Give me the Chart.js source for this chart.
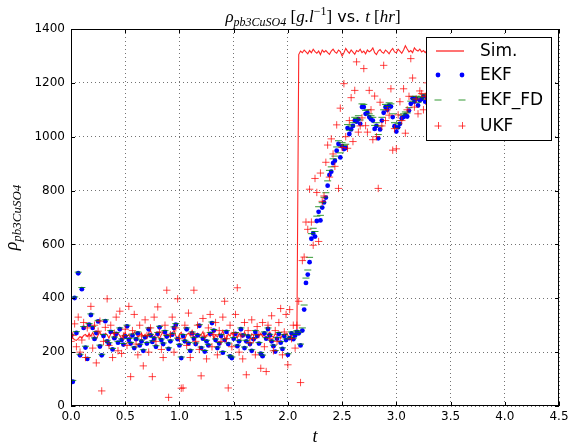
<!DOCTYPE html>
<html><head><meta charset="utf-8">
<script src="https://cdn.jsdelivr.net/npm/chart.js@4.4.0/dist/chart.umd.min.js"></script>
<style>html,body{margin:0;padding:0;background:#fff;}canvas{display:block;}</style>
</head><body>
<canvas id="c" width="577" height="446"></canvas>
<script>
// ---- data ----
const N = 200;
const dt = 1 / 60; // sampling step in hours
const times = Array.from({length: N}, (_, i) => i * dt);

const seriesNames = ['Sim.', 'EKF', 'EKF_FD', 'UKF'];

const simValues = [
 260,252,246,244,250,258,252,262,266,258,
 268,260,272,258,250,263,275,262,255,270,
 265,252,268,278,260,255,270,262,248,265,
 272,258,266,250,262,275,268,255,263,270,
 258,266,252,272,280,262,255,268,260,250,
 265,275,258,268,262,255,270,282,260,252,
 266,274,258,248,265,270,260,278,255,262,
 270,258,264,276,252,262,268,258,272,250,
 264,256,270,262,280,255,248,268,260,272,
 258,266,252,270,262,255,275,260,265,250,
 268,262,274,255,260,270,258,264,252,268,
 275,260,255,268,262,272,250,265,258,270,
 262,255,268,260,272,278,
 1305,1318,1312,1322,1315,1308,1320,1312,1325,1316,
 1310,1318,1305,1322,1314,1320,1312,1306,1318,1325,
 1315,1310,1322,1316,1300,1312,1328,1318,1310,1322,
 1314,1306,1320,1316,1325,1312,1318,1308,1322,1315,
 1320,1330,1312,1305,1318,1324,1314,1310,1322,1316,
 1308,1320,1328,1315,1312,1325,1318,1310,1322,1338,
 1326,1315,1320,1312,1330,1322,1318,1325,1315,1320,
 1312,1322,1316,1320
];

const ekfValues = [
 262,90,401,271,493,188,434,290,217,175,
 302,338,290,249,271,314,221,188,260,315,
 240,230,275,210,252,268,235,285,245,228,
 258,296,246,232,262,215,248,270,225,240,
 205,255,232,285,262,238,250,220,268,292,
 245,230,275,258,212,240,265,290,302,248,
 225,178,260,240,285,232,205,270,250,230,
 262,298,215,250,202,240,225,268,308,280,
 245,215,232,260,198,245,275,230,184,178,
 250,268,222,240,285,262,215,240,258,230,
 205,248,275,260,232,194,185,270,250,286,
 262,240,222,202,250,268,235,212,260,245,
 190,252,270,248,262,275,
 270,225,280,358,457,488,534,621,641,629,
 687,721,689,737,756,774,818,858,870,902,
 911,948,973,923,965,954,958,1032,1010,1027,
 1040,1060,1056,1065,1048,1110,1110,1085,1089,1073,
 1065,1060,1029,1040,994,1027,1060,1089,1110,1100,
 1115,1112,1073,1039,1019,1035,1048,1069,1073,1080,
 1075,1097,1122,1143,1130,1141,1116,1135,1140,1150,
 1130,1145,1150,1140
];

const ekfFdValues = [
 265,95,405,276,497,192,440,295,222,180,
 306,342,296,253,276,318,226,192,265,320,
 244,235,280,214,256,273,240,290,249,232,
 262,300,251,236,267,219,252,275,229,245,
 209,260,236,290,266,242,255,224,273,296,
 249,234,280,262,216,245,270,294,306,252,
 229,182,265,244,290,236,209,275,254,234,
 266,302,219,255,206,244,229,273,312,284,
 249,219,236,265,202,249,280,234,188,182,
 254,273,226,244,290,266,219,244,263,234,
 209,252,280,264,236,198,189,275,254,290,
 266,244,226,206,254,273,239,216,265,249,
 194,256,275,252,266,280,
 274,230,290,375,475,505,552,640,660,648,
 705,740,708,755,775,792,836,875,888,918,
 928,962,985,940,978,968,972,1045,1024,1040,
 1052,1072,1068,1078,1062,1122,1120,1098,1100,1085,
 1078,1072,1042,1052,1008,1040,1072,1100,1120,1112,
 1126,1122,1085,1052,1032,1048,1060,1080,1085,1092,
 1088,1108,1132,1150,1140,1150,1128,1145,1150,1158,
 1140,1155,1160,1150
];

const ukfValues = [
 240,262,305,220,330,200,245,310,180,290,
 260,370,215,300,160,278,315,56,240,292,
 398,225,300,180,270,330,205,352,195,260,
 285,225,370,109,280,340,230,190,300,260,
 149,320,262,200,290,109,330,240,368,275,
 210,180,300,430,32,265,330,200,290,398,
 250,66,67,300,225,345,180,270,430,240,
 300,210,112,325,260,175,290,340,220,265,
 310,190,280,240,330,389,250,67,300,220,
 270,340,439,200,260,175,310,116,280,235,
 320,250,190,295,265,140,310,220,128,300,
 250,335,205,280,240,310,362,190,275,340,
 153,358,250,300,215,300,
 389,87,540,553,683,656,805,683,597,845,
 793,611,865,760,780,905,969,850,992,936,
 890,1044,808,1106,960,1197,1000,957,1060,1145,
 982,1172,1278,1017,1040,1070,1253,1041,1017,1172,
 1100,989,1151,1000,808,1128,1040,1265,1060,1100,
 1080,1178,950,1030,955,1081,1130,1060,1178,1013,
 1100,1150,1290,1218,1110,1140,1085,1170,1160,1100,
 1150,1200,1120,1160
];

const xTickLabels = ['0.0','0.5','1.0','1.5','2.0','2.5','3.0','3.5','4.0','4.5'];
const yTickLabels = ['0','200','400','600','800','1000','1200','1400'];

// ---- styling ----
const SERIF = '"Liberation Serif", "DejaVu Serif", serif';
const SANS = '"DejaVu Sans", sans-serif';
const RED = 'rgba(255,0,0,0.85)';
const UKF_RED = 'rgba(255,0,0,0.72)';
const BLUE = '#0000ff';
const GREEN = 'rgba(0,128,0,0.8)';

const pts = vals => vals.map((v, i) => ({x: times[i], y: v}));

function drawRich(ctx, parts, x, y) {
  let cx = x;
  for (const p of parts) {
    ctx.font = p.f;
    ctx.fillText(p.t, cx, y + (p.dy || 0));
    cx += ctx.measureText(p.t).width;
  }
}
function richWidth(ctx, parts) {
  let w = 0;
  for (const p of parts) { ctx.font = p.f; w += ctx.measureText(p.t).width; }
  return w;
}

const decor = {
  id: 'decor',
  afterDraw(chart) {
    const ctx = chart.ctx;
    const a = chart.chartArea;
    const xs = chart.scales.x, ys = chart.scales.y;
    ctx.save();
    // frame
    ctx.strokeStyle = '#000';
    ctx.lineWidth = 1;
    ctx.strokeRect(Math.round(a.left) + 0.5, Math.round(a.top) + 0.5,
                   Math.round(a.right - a.left) - 1, Math.round(a.bottom - a.top) - 1);
    // inward ticks
    ctx.beginPath();
    xs.ticks.forEach(t => {
      const px = Math.round(xs.getPixelForValue(t.value)) + 0.5;
      ctx.moveTo(px, a.bottom); ctx.lineTo(px, a.bottom - 4);
      ctx.moveTo(px, a.top); ctx.lineTo(px, a.top + 4);
    });
    ys.ticks.forEach(t => {
      const py = Math.round(ys.getPixelForValue(t.value)) + 0.5;
      ctx.moveTo(a.left, py); ctx.lineTo(a.left + 4, py);
      ctx.moveTo(a.right, py); ctx.lineTo(a.right - 4, py);
    });
    ctx.stroke();

    ctx.fillStyle = '#000';
    ctx.textBaseline = 'alphabetic';
    ctx.textAlign = 'left';
    // title
    const M = 17, S = 12;
    const title = [
      {t: 'ρ', f: `italic ${M}px ${SERIF}`},
      {t: 'pb3CuSO4', f: `italic ${S}px ${SERIF}`, dy: 4},
      {t: ' [', f: `${M}px ${SERIF}`},
      {t: 'g.l', f: `italic ${M}px ${SERIF}`},
      {t: '−1', f: `${S}px ${SERIF}`, dy: -7},
      {t: ']', f: `${M}px ${SERIF}`},
      {t: ' vs. ', f: `${M - 1}px ${SANS}`},
      {t: 't', f: `italic ${M}px ${SERIF}`},
      {t: ' [', f: `${M}px ${SERIF}`},
      {t: 'hr', f: `italic ${M}px ${SERIF}`},
      {t: ']', f: `${M}px ${SERIF}`}
    ];
    const cxm = (a.left + a.right) / 2;
    drawRich(ctx, title, cxm - 2 - richWidth(ctx, title) / 2, 22);
    // x label
    const xl = [{t: 't', f: `italic 18px ${SERIF}`}];
    drawRich(ctx, xl, cxm - richWidth(ctx, xl) / 2, 442);
    // y label
    const yl = [
      {t: 'ρ', f: `italic 18px ${SERIF}`},
      {t: 'pb3CuSO4', f: `italic 13px ${SERIF}`, dy: 4}
    ];
    ctx.save();
    ctx.translate(17, (a.top + a.bottom) / 2);
    ctx.rotate(-Math.PI / 2);
    drawRich(ctx, yl, -richWidth(ctx, yl) / 2, 0);
    ctx.restore();

    // legend
    const bx = 426, by = 37, bw = 125, bh = 103;
    ctx.fillStyle = '#fff';
    ctx.fillRect(bx, by, bw, bh);
    ctx.strokeStyle = '#000';
    ctx.lineWidth = 1;
    ctx.strokeRect(bx + 0.5, by + 0.5, bw, bh);
    const rows = [51, 75, 99.5, 125.5];
    const hx = [438, 462];
    // Sim line
    ctx.strokeStyle = RED; ctx.lineWidth = 1.3;
    ctx.beginPath(); ctx.moveTo(436, rows[0]); ctx.lineTo(464, rows[0]); ctx.stroke();
    // EKF dots
    ctx.fillStyle = BLUE;
    hx.forEach(x => { ctx.beginPath(); ctx.arc(x, rows[1], 2.4, 0, Math.PI * 2); ctx.fill(); });
    // EKF_FD dashes
    ctx.strokeStyle = GREEN; ctx.lineWidth = 1;
    ctx.beginPath();
    hx.forEach(x => { ctx.moveTo(x - 3.5, rows[2] + 0.5); ctx.lineTo(x + 3.5, rows[2] + 0.5); });
    ctx.stroke();
    // UKF crosses
    ctx.strokeStyle = UKF_RED; ctx.lineWidth = 1;
    ctx.beginPath();
    hx.forEach(x => {
      ctx.moveTo(x - 3.5, rows[3] + 0.5); ctx.lineTo(x + 3.5, rows[3] + 0.5);
      ctx.moveTo(x + 0.5, rows[3] - 3.5); ctx.lineTo(x + 0.5, rows[3] + 3.5);
    });
    ctx.stroke();
    ctx.fillStyle = '#000';
    ctx.font = `17px ${SANS}`;
    ctx.textBaseline = 'middle';
    seriesNames.forEach((n, i) => ctx.fillText(n, 480, rows[i] + 1));
    ctx.restore();
  }
};

const gridStyle = {color: 'rgba(0,0,0,0.55)', lineWidth: 1, drawTicks: false, tickLength: 0};
const borderStyle = {display: false, dash: [1, 3]};

new Chart(document.getElementById('c'), {
  type: 'scatter',
  data: {
    datasets: [
      {label: seriesNames[0], data: pts(simValues), showLine: true, pointRadius: 0,
       borderColor: RED, borderWidth: 1.1, tension: 0, order: 3},
      {label: seriesNames[1], data: pts(ekfValues), pointStyle: 'circle', pointRadius: 2.4,
       backgroundColor: BLUE, borderColor: BLUE, borderWidth: 0, order: 2},
      {label: seriesNames[2], data: pts(ekfFdValues), pointStyle: 'line', pointRadius: 3.5,
       borderColor: GREEN, backgroundColor: GREEN, borderWidth: 1, order: 1},
      {label: seriesNames[3], data: pts(ukfValues), pointStyle: 'cross', pointRadius: 3.7,
       borderColor: UKF_RED, backgroundColor: UKF_RED, borderWidth: 1, order: 0}
    ]
  },
  options: {
    responsive: false,
    animation: false,
    devicePixelRatio: 1,
    events: [],
    layout: {padding: {top: 29, right: 18, left: 0, bottom: 0}},
    plugins: {legend: {display: false}, tooltip: {enabled: false}, title: {display: false}},
    scales: {
      x: {
        type: 'linear', min: 0, max: 4.5,
        afterFit(s) { s.height = 40; },
        grid: gridStyle, border: borderStyle,
        ticks: {stepSize: 0.5, autoSkip: false, maxRotation: 0, padding: 4, color: '#000',
                font: {family: 'DejaVu Sans', size: 12},
                callback: (v, i) => xTickLabels[i]}
      },
      y: {
        type: 'linear', min: 0, max: 1400,
        afterFit(s) { s.width = 71; },
        grid: gridStyle, border: borderStyle,
        ticks: {stepSize: 200, autoSkip: false, padding: 6, color: '#000',
                font: {family: 'DejaVu Sans', size: 12},
                callback: (v, i) => yTickLabels[i]}
      }
    }
  },
  plugins: [decor]
});
</script>
</body></html>
